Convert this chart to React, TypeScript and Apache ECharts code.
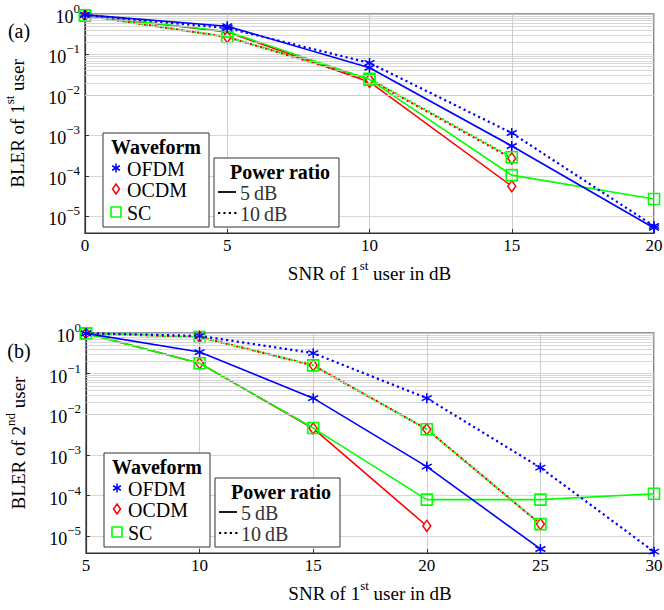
import React, { useEffect, useRef } from 'react';
import * as echarts from 'echarts';

// ---------- data ----------
const snrA = [0, 5, 10, 15, 20];
const ofdm5A = [0.95, 0.5, 0.047, 5.5e-4, 5.2e-6];
const ofdm10A = [0.95, 0.45, 0.062, 1.15e-3, 5.8e-6];
const ocdm5A = [0.92, 0.36, 0.021, 5.6e-5];
const ocdm10A = [0.92, 0.27, 0.024, 2.7e-4];
const sc5A = [0.92, 0.37, 0.024, 1.05e-4, 2.7e-5];
const sc10A = [0.92, 0.27, 0.025, 2.9e-4];

const snrB = [5, 10, 15, 20, 25, 30];
const ofdm5B = [0.98, 0.34, 0.025, 5.2e-4, 4.9e-6];
const ofdm10B = [0.98, 0.85, 0.32, 0.025, 4.9e-4, 4.2e-6];
const ocdm5B = [0.98, 0.18, 4.5e-3, 1.8e-5];
const ocdm10B = [0.98, 0.8, 0.16, 4.3e-3, 2.0e-5];
const sc5B = [0.98, 0.18, 4.6e-3, 8.0e-5, 8.0e-5, 1.12e-4];
const sc10B = [0.98, 0.8, 0.16, 4.3e-3, 2.0e-5];

const waveformNames = ['OFDM', 'OCDM', 'SC'];
const powerNames = ['5\u2009dB', '10\u2009dB'];

// ---------- style ----------
const FONT = "'Liberation Serif', serif";
const Y_MIN = 3.9e-6;
const BLUE = '#0000ff';
const RED = '#ff0000';
const GREEN = '#00ff00';
const GRIDC = '#cdcdcd';

const minorVals: number[] = [];
for (let n = -6; n <= -1; n++) {
  for (let k = 2; k <= 9; k++) {
    const v = k * Math.pow(10, n);
    if (v > Y_MIN && v < 1) minorVals.push(v);
  }
}

const zip = (xs: number[], ys: number[]) => ys.map((y, i) => [xs[i], y]);

const STAR = 'path://M0,-10L0,10M-8.66,-5L8.66,5M-8.66,5L8.66,-5';

function mk(xs: number[], ys: number[], kind: 'star' | 'diamond' | 'square', dotted: boolean, gi: number, z: number, dashOffset = 0) {
  const color = kind === 'star' ? BLUE : kind === 'diamond' ? RED : GREEN;
  const sym: any =
    kind === 'star'
      ? { symbol: STAR, symbolSize: 10, itemStyle: { color, borderColor: color, borderWidth: 1.5 } }
      : kind === 'diamond'
      ? { symbol: 'diamond', symbolSize: [8, 11], itemStyle: { color: '#fff', borderColor: color, borderWidth: 1.5 } }
      : { symbol: 'rect', symbolSize: 11, itemStyle: { color: 'rgba(0,0,0,0)', borderColor: color, borderWidth: 1.6 } };
  return {
    type: 'line',
    xAxisIndex: gi,
    yAxisIndex: gi,
    data: zip(xs, ys),
    z,
    showSymbol: true,
    ...sym,
    lineStyle: dotted
      ? { color, width: 2.2, type: [2.2, 3.2], dashOffset, cap: 'butt' }
      : { color, width: 1.6, type: 'solid' },
  };
}

function minorSeries(gi: number) {
  return {
    type: 'line',
    xAxisIndex: gi,
    yAxisIndex: gi,
    data: [],
    z: 1,
    silent: true,
    markLine: {
      silent: true,
      symbol: ['none', 'none'],
      label: { show: false },
      lineStyle: { color: GRIDC, width: 0.8, type: 'solid' },
      data: minorVals.map((v) => ({ yAxis: v })),
    },
  };
}

function yLabel(v: number) {
  const l = Math.log10(v);
  const r = Math.round(l);
  if (Math.abs(l - r) > 1e-6) return '';
  return `{b|10}{s|${r < 0 ? '\u2212' + -r : r}}`;
}

const yRich = {
  b: { fontSize: 18, fontFamily: FONT, color: '#000', padding: [6, 0, 0, 0] },
  s: { fontSize: 13, fontFamily: FONT, color: '#000', verticalAlign: 'top' },
};
const nameRich = {
  n: { fontSize: 19, fontFamily: FONT, color: '#000', padding: [5, 0, 0, 0] },
  s: { fontSize: 13, fontFamily: FONT, color: '#000', verticalAlign: 'top' },
};

function xAxis(gi: number, min: number, max: number) {
  return {
    type: 'value',
    gridIndex: gi,
    min,
    max,
    interval: 5,
    name: '{n|SNR of 1}{s|st}{n| user in dB}',
    nameLocation: 'middle',
    nameGap: 26,
    nameTextStyle: { rich: nameRich },
    axisLine: { show: true, lineStyle: { color: '#333', width: 1.2 } },
    axisTick: { show: true, inside: true, length: 4, lineStyle: { color: '#333' } },
    axisLabel: { fontSize: 17, fontFamily: FONT, color: '#000', margin: 4 },
    splitLine: { show: true, lineStyle: { color: GRIDC, width: 1 } },
  };
}

function yAxis(gi: number, num: string, ord: string) {
  return {
    type: 'log',
    logBase: 10,
    gridIndex: gi,
    min: Y_MIN,
    max: 1,
    name: `{n|BLER of ${num}}{s|${ord}}{n| user}`,
    nameLocation: 'middle',
    nameRotate: 90,
    nameGap: 58,
    nameTextStyle: { rich: nameRich },
    axisLine: { show: true, lineStyle: { color: '#333', width: 1.2 } },
    axisTick: { show: true, inside: true, length: 4, lineStyle: { color: '#333' } },
    axisLabel: { formatter: yLabel, rich: yRich, margin: 5 },
    splitLine: { show: true, lineStyle: { color: GRIDC, width: 0.8 } },
    minorTick: { show: false },
  };
}

function legendGraphics(dy: number, dx: number) {
  const g: any[] = [];
  const txt = (text: string, x: number, y: number, bold: boolean, align: string, fill = '#000') => ({
    type: 'text',
    x,
    y,
    z: 101,
    style: {
      text,
      fill,
      fontFamily: FONT,
      fontSize: 20,
      fontWeight: bold ? 'bold' : 'normal',
      align,
      verticalAlign: 'middle',
    },
  });
  // Waveform box
  g.push({ type: 'rect', z: 100, shape: { x: 103 + dx, y: 133 + dy, width: 106, height: 94 }, style: { fill: '#fff', stroke: '#333', lineWidth: 1 } });
  g.push(txt('Waveform', 156 + dx, 147 + dy, true, 'center'));
  const mx = 116 + dx;
  const rows = [168, 189, 212];
  // asterisk
  const cy0 = rows[0] + dy;
  [90, 30, -30].forEach((a) => {
    const r = 4.5;
    const c = Math.cos((a * Math.PI) / 180) * r;
    const s = Math.sin((a * Math.PI) / 180) * r;
    g.push({ type: 'line', z: 101, shape: { x1: mx - c, y1: cy0 - s, x2: mx + c, y2: cy0 + s }, style: { stroke: BLUE, lineWidth: 1.5 } });
  });
  const cy1 = rows[1] + dy;
  g.push({ type: 'polygon', z: 101, shape: { points: [[mx, cy1 - 5], [mx + 3.5, cy1], [mx, cy1 + 5], [mx - 3.5, cy1]] }, style: { fill: '#fff', stroke: RED, lineWidth: 1.5 } });
  const cy2 = rows[2] + dy;
  g.push({ type: 'rect', z: 101, shape: { x: mx - 5, y: cy2 - 5, width: 10, height: 10 }, style: { fill: 'none', stroke: GREEN, lineWidth: 1.6 } });
  waveformNames.forEach((n, i) => g.push(txt(n, 127 + dx, rows[i] + dy + 1, false, 'left')));

  // Power ratio box
  g.push({ type: 'rect', z: 100, shape: { x: 214 + dx, y: 158 + dy, width: 125, height: 69 }, style: { fill: '#fff', stroke: '#333', lineWidth: 1 } });
  g.push(txt('Power ratio', 280 + dx, 172 + dy, true, 'center'));
  g.push({ type: 'line', z: 101, shape: { x1: 218 + dx, y1: 192 + dy, x2: 236 + dx, y2: 192 + dy }, style: { stroke: '#000', lineWidth: 1.8 } });
  g.push({ type: 'line', z: 101, shape: { x1: 218 + dx, y1: 213 + dy, x2: 237 + dx, y2: 213 + dy }, style: { stroke: '#000', lineWidth: 2, lineDash: [2.2, 3.2] } });
  g.push(txt(powerNames[0], 240 + dx, 193 + dy, false, 'left', '#333'));
  g.push(txt(powerNames[1], 240 + dx, 214 + dy, false, 'left', '#333'));
  return g;
}

export default function App() {
  const ref = useRef<HTMLDivElement>(null);
  useEffect(() => {
    if (!ref.current) return;
    const chart = echarts.init(ref.current, undefined, { renderer: 'svg' });
    const option: any = {
      animation: false,
      backgroundColor: '#fff',
      textStyle: { fontFamily: FONT },
      grid: [
        { left: 85, top: 14, width: 569, height: 219, show: true, borderColor: '#333', borderWidth: 1.2, backgroundColor: 'transparent', containLabel: false, outerBoundsMode: 'none' },
        { left: 86, top: 333, width: 568, height: 220, show: true, borderColor: '#333', borderWidth: 1.2, backgroundColor: 'transparent', containLabel: false, outerBoundsMode: 'none' },
      ],
      xAxis: [xAxis(0, 0, 20), xAxis(1, 5, 30)],
      yAxis: [yAxis(0, '1', 'st'), yAxis(1, '2', 'nd')],
      series: [
        minorSeries(0),
        mk(snrA, ocdm5A, 'diamond', false, 0, 3),
        mk(snrA, ocdm10A, 'diamond', true, 0, 3),
        mk(snrA, sc5A, 'square', false, 0, 4),
        mk(snrA, sc10A, 'square', true, 0, 4, 2.7),
        mk(snrA, ofdm5A, 'star', false, 0, 5),
        mk(snrA, ofdm10A, 'star', true, 0, 5),
        minorSeries(1),
        mk(snrB, ocdm5B, 'diamond', false, 1, 3),
        mk(snrB, ocdm10B, 'diamond', true, 1, 3),
        mk(snrB, sc5B, 'square', false, 1, 4),
        mk(snrB, sc10B, 'square', true, 1, 4, 2.7),
        mk(snrB, ofdm5B, 'star', false, 1, 5),
        mk(snrB, ofdm10B, 'star', true, 1, 5),
      ],
      graphic: [
        { type: 'text', x: 19, y: 31, style: { text: '(a)', fontFamily: FONT, fontSize: 20, fill: '#000', align: 'center', verticalAlign: 'middle' } },
        { type: 'text', x: 19, y: 351, style: { text: '(b)', fontFamily: FONT, fontSize: 20, fill: '#000', align: 'center', verticalAlign: 'middle' } },
        ...legendGraphics(0, 0),
        ...legendGraphics(320, 1),
      ],
    };
    chart.setOption(option);
    return () => chart.dispose();
  }, []);
  return <div ref={ref} style={{ position: 'absolute', left: 0, top: 0, width: 664, height: 610 }} />;
}
